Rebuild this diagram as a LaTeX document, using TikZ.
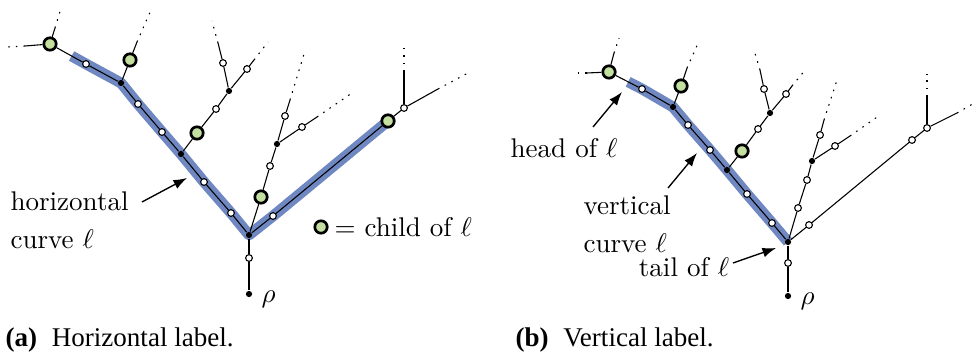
\documentclass[tikz,border=0pt]{standalone}
\usepackage{fontspec}
\newfontfamily\capfont{Liberation Serif}
\usetikzlibrary{arrows.meta,calc}

\pgfdeclarelayer{background}
\pgfsetlayers{background,main}

\definecolor{kidgreen}{RGB}{196,224,160}
\definecolor{curveblue}{RGB}{112,136,194}

\tikzset{
  wdot/.style={circle,draw,fill=white,inner sep=0pt,minimum size=2.5pt,line width=0.4pt},
  bdot/.style={circle,fill=black,inner sep=0pt,minimum size=2.3pt},
  kid/.style={circle,draw,fill=kidgreen,inner sep=0pt,minimum size=4.6pt,line width=1pt},
  leaf/.style={dash pattern=on 0.6pt off 2.2pt},
  hl/.style={curveblue,line width=4pt,line join=round},
  ptr/.style={-{Latex[length=5pt,width=3.6pt]},line width=0.5pt},
  lbl/.style={inner sep=0pt}
}

\begin{document}
\begin{tikzpicture}[x=0.37pt,y=-0.37pt,line width=0.4pt]

\useasboundingbox (0,0) rectangle (977,358);

%%%%%%%%%%%%%%%%%%%%%%%%%%%%%%%%%%%%%%%%%%%%%%%%%%
% (a) Horizontal label
%%%%%%%%%%%%%%%%%%%%%%%%%%%%%%%%%%%%%%%%%%%%%%%%%%

\begin{scope}

% Vertices
\foreach \n/\x/\y in {aW1/86/64, aW2/138/104, aW3/162/132, aW4/216/109,
    aW5/223/63, aW6/247/69, aW7/204/182, aW8/231/213, aW9/270/166,
    aW10/285/116, aW11/302/127, aW12/273/216, aW13/404/108, aW14/249/258}
  \node[wdot] (\n) at (\x,\y) {};
\foreach \n/\x/\y in {aB1/121/83, aB2/181/154, aB3/229/91, aB4/277/144,
    aR/249/235, aRho/249/294}
  \node[bdot] (\n) at (\x,\y) {};
\foreach \n/\x/\y in {aG1/50/44, aG2/130/60, aG3/197/133, aG4/388/121, aG5/261/197}
  \node[kid] (\n) at (\x,\y) {};

% Edges
\foreach \u/\v in {aG1/aW1, aW1/aB1, aB1/aG2, aB1/aW2, aW2/aW3, aW3/aB2,
    aB2/aG3, aG3/aW4, aW4/aB3, aB3/aW5, aB3/aW6, aB2/aW7, aW7/aW8, aW8/aR,
    aR/aG5, aG5/aW9, aW9/aB4, aB4/aW10, aB4/aW11, aR/aW12, aW12/aG4,
    aG4/aW13, aR/aW14, aW14/aRho}
  \draw (\u) -- (\v);

% Leaves (solid, then dotted)
\foreach \u/\k/\sx/\sy/\dx/\dy in {aG1/1/25/46/8/47, aG1/2/55/28/61/8,
    aG2/1/137/42/151/10, aW5/1/218/43/212/21, aW6/1/254/60/268/42,
    aW10/1/290/100/304/54, aW11/1/317/117/352/93,
    aW13/1/404/72/404/48, aW13/2/438/89/468/73} {
  \coordinate (\u s\k) at (\sx,\sy);
  \coordinate (\u d\k) at (\dx,\dy);
  \draw (\u) -- (\u s\k);
  \draw[leaf] (\u s\k) -- (\u d\k);
}

% Curve
\begin{pgfonlayer}{background}
\draw[hl] ($(aG1)!0.6!(aW1)$) -- (aW1.center) -- (aB1.center) -- (aW2.center)
  -- (aW3.center) -- (aB2.center) -- (aW7.center) -- (aW8.center)
  -- (aR.center) -- (aW12.center) -- (aG4.center);
\end{pgfonlayer}

% Labels
\node[lbl,anchor=west,align=left] (aTxt) at (10,220) {horizontal\\[2pt]curve $\ell$};
\coordinate (aArT) at (142,202);
\coordinate (aArH) at (187,178);
\draw[ptr] (aArT) -- (aArH);
\node[lbl,right] (aRhoL) at (261,299) {$\rho$};
\node[kid] (legG) at (321,227) {};
\node[lbl,anchor=west] (legT) at (334,227) {$=$ child of $\ell$};
\node[lbl,anchor=west] (capA) at (5,340) {\capfont\textbf{(a)}\hspace{5.5pt}Horizontal label.};

\end{scope}

%%%%%%%%%%%%%%%%%%%%%%%%%%%%%%%%%%%%%%%%%%%%%%%%%%
% (b) Vertical label
%%%%%%%%%%%%%%%%%%%%%%%%%%%%%%%%%%%%%%%%%%%%%%%%%%

\begin{scope}

% Vertices
\foreach \n/\x/\y in {bW1/642/89, bW2/688/125, bW3/710/150, bW4/758/129,
    bW5/764/89, bW6/786/94, bW7/747/194, bW8/772/223, bW9/798/208,
    bW10/807/180, bW11/820/135, bW12/835/146, bW13/809/225, bW14/912/140,
    bW15/927/128, bW16/788/263}
  \node[wdot] (\n) at (\x,\y) {};
\foreach \n/\x/\y in {bB1/673/107, bB2/727/170, bB3/770/113, bB4/812/161,
    bR/788/242, bRho/788/296}
  \node[bdot] (\n) at (\x,\y) {};
\foreach \n/\x/\y in {bG1/609/72, bG2/681/86, bG3/742/151}
  \node[kid] (\n) at (\x,\y) {};

% Edges
\foreach \u/\v in {bG1/bW1, bW1/bB1, bB1/bG2, bB1/bW2, bW2/bW3, bW3/bB2,
    bB2/bG3, bG3/bW4, bW4/bB3, bB3/bW5, bB3/bW6, bB2/bW7, bW7/bW8, bW8/bR,
    bR/bW9, bW9/bW10, bW10/bB4, bB4/bW11, bB4/bW12, bR/bW13, bW13/bW14,
    bW14/bW15, bR/bW16, bW16/bRho}
  \draw (\u) -- (\v);

% Leaves (solid, then dotted)
\foreach \u/\k/\sx/\sy/\dx/\dy in {bG1/1/587/73/573/73, bG1/2/614/53/619/38,
    bG2/1/687/68/699/41, bW5/1/760/70/754/50, bW6/1/792/86/806/69,
    bW11/1/824/120/837/80, bW12/1/850/136/880/115,
    bW15/1/927/97/927/74, bW15/2/957/113/976/102} {
  \coordinate (\u s\k) at (\sx,\sy);
  \coordinate (\u d\k) at (\dx,\dy);
  \draw (\u) -- (\u s\k);
  \draw[leaf] (\u s\k) -- (\u d\k);
}

% Curve
\begin{pgfonlayer}{background}
\draw[hl] ($(bG1)!0.58!(bW1)$) -- (bW1.center) -- (bB1.center) -- (bW2.center)
  -- (bW3.center) -- (bB2.center) -- (bW7.center) -- (bW8.center)
  -- (bR.center);
\end{pgfonlayer}

% Labels
\node[lbl] (bHead) at (564,148) {head of $\ell$};
\coordinate (bHdT) at (593,127);
\coordinate (bHdH) at (622,92);
\draw[ptr] (bHdT) -- (bHdH);
\node[lbl,anchor=west,align=left] (bTxt) at (583,224) {vertical\\[2pt]curve $\ell$};
\coordinate (bVtT) at (668,188);
\coordinate (bVtH) at (697,153);
\draw[ptr] (bVtT) -- (bVtH);
\node[lbl] (bTail) at (684,267) {tail of $\ell$};
\coordinate (bTlT) at (733,263);
\coordinate (bTlH) at (776,248);
\draw[ptr] (bTlT) -- (bTlH);
\node[lbl,right] (bRhoL) at (800,301) {$\rho$};
\node[lbl,anchor=west] (capB) at (515,340) {\capfont\textbf{(b)}\hspace{5.5pt}Vertical label.};

\end{scope}

\end{tikzpicture}
\end{document}
